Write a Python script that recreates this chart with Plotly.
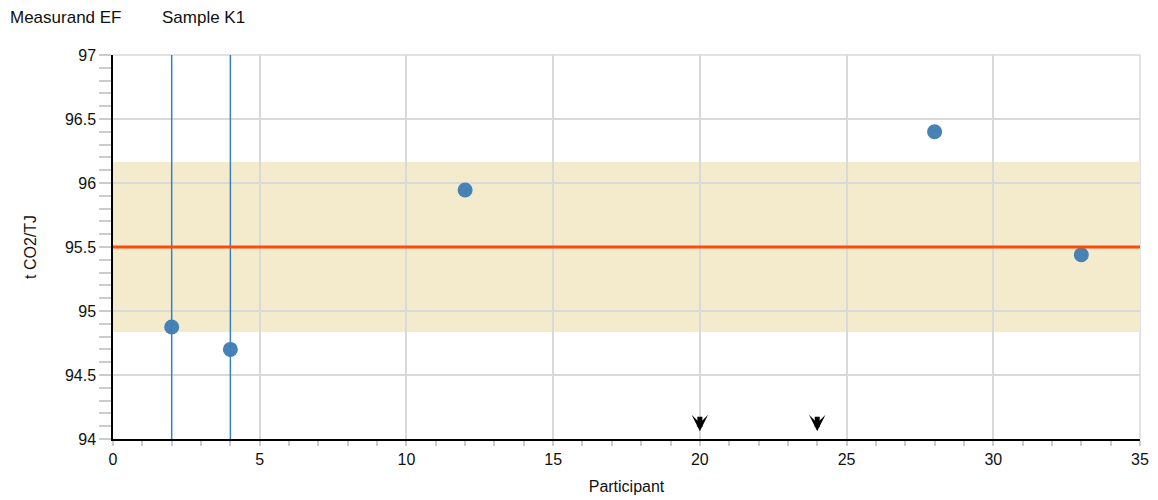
import plotly.graph_objects as go

# Data
participants = [2, 4, 12, 28, 33]
values = [94.875, 94.70, 95.945, 96.40, 95.44]
below_range = [20, 24]          # participants whose values are below the axis range
highlight = [2, 4]              # participants marked with vertical lines
assigned_value = 95.5
band_low, band_high = 94.836, 96.164
x_range = [0, 35]
y_range = [94, 97]

FONT = "Liberation Sans, Arial, sans-serif"
GRID = "#d9d9d9"

fig = go.Figure()

# tolerance band
fig.add_shape(type="rect", xref="x", yref="y", x0=x_range[0], x1=x_range[1],
              y0=band_low, y1=band_high, fillcolor="#f4ebcd", line_width=0, layer="below")

# highlight lines
for p in highlight:
    fig.add_shape(type="line", xref="x", yref="paper", x0=p, x1=p, y0=0, y1=1,
                  line=dict(color="#3a80c0", width=1.5), layer="above")

# assigned value line
fig.add_shape(type="line", xref="paper", yref="y", x0=0, x1=1,
              y0=assigned_value, y1=assigned_value,
              line=dict(color="#ff4a0a", width=3), layer="above")

fig.add_trace(go.Scatter(x=participants, y=values, mode="markers",
                         marker=dict(size=15, color="#4682b4"),
                         hoverinfo="x+y", showlegend=False))

# arrows for values below range
for p in below_range:
    fig.add_annotation(x=p, y=94.06, xref="x", yref="y", ax=0, ay=-16,
                       showarrow=True, arrowhead=3, arrowsize=0.55, arrowwidth=5,
                       arrowcolor="black", text="")

# title texts
fig.add_annotation(text="Measurand EF", xref="paper", yref="paper",
                   x=-105/1027, y=1 + 38/384, xanchor="left", yanchor="middle",
                   showarrow=False, font=dict(size=17, color="#111", family=FONT))
fig.add_annotation(text="Sample K1", xref="paper", yref="paper",
                   x=47/1027, y=1 + 38/384, xanchor="left", yanchor="middle",
                   showarrow=False, font=dict(size=17, color="#111", family=FONT))

fig.update_layout(
    width=1158, height=500,
    margin=dict(l=105, r=26, t=47, b=69),
    plot_bgcolor="white", paper_bgcolor="white",
    font=dict(family=FONT, color="#111"),
    xaxis=dict(range=x_range, dtick=5, tick0=0, showgrid=True, gridcolor=GRID, gridwidth=1.5,
               zeroline=False, showline=True, linecolor="black", linewidth=1.5,
               ticks="outside", ticklen=5, tickcolor="#cccccc", tickwidth=1.5,
               minor=dict(dtick=1, ticks="outside", ticklen=5, tickcolor="#cccccc", showgrid=False),
               tickfont=dict(size=16),
               title=dict(text="Participant", font=dict(size=16), standoff=14)),
    yaxis=dict(range=y_range, dtick=0.5, tick0=94, showgrid=True, gridcolor=GRID, gridwidth=1.5,
               zeroline=False, showline=True, linecolor="black", linewidth=1.5,
               ticks="outside", ticklen=12, tickcolor="#cccccc", tickwidth=1.5,
               minor=dict(dtick=0.1, ticks="outside", ticklen=12, tickcolor="#cccccc", showgrid=False),
               tickfont=dict(size=16),
               title=dict(text="t CO2/TJ", font=dict(size=16), standoff=24)),
)

# top / right border lines (light gray)
fig.add_shape(type="line", xref="paper", yref="paper", x0=0, x1=1, y0=1, y1=1,
              line=dict(color=GRID, width=1.5), layer="below")
fig.add_shape(type="line", xref="paper", yref="paper", x0=1, x1=1, y0=0, y1=1,
              line=dict(color=GRID, width=1.5), layer="below")

fig.write_html("out.html")
